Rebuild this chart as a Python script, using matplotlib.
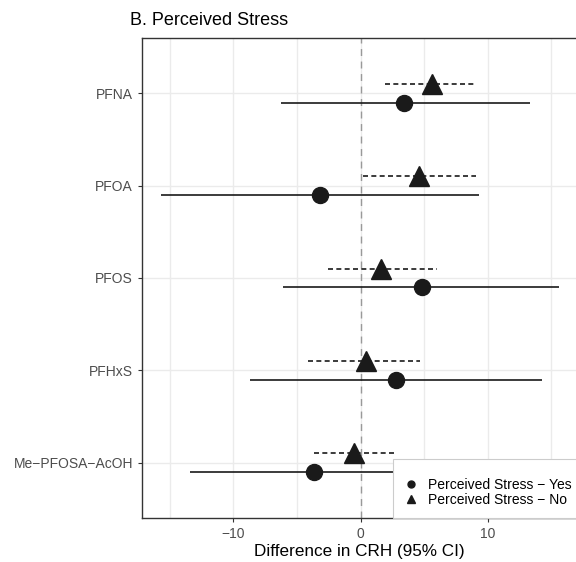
import numpy as np
import matplotlib
matplotlib.use("Agg")
import matplotlib.pyplot as plt
from matplotlib.ticker import MultipleLocator

plt.rcParams["font.family"] = ["Liberation Sans", "DejaVu Sans"]

# Data
chemicals = ["PFNA", "PFOA", "PFOS", "PFHxS", "Me\u2212PFOSA\u2212AcOH"]

yes_est = [3.4, -3.2, 4.8, 2.8, -3.7]
yes_low = [-6.3, -15.7, -6.1, -8.7, -13.4]
yes_high = [13.3, 9.3, 15.6, 14.3, 6.0]

no_est = [5.6, 4.6, 1.6, 0.4, -0.5]
no_low = [1.9, 0.2, -2.6, -4.1, -3.7]
no_high = [9.1, 9.1, 6.0, 4.7, 2.9]

LINE_COLOUR = "#1a1a1a"
GRID_COLOUR = "#ebebeb"
TEXT_COLOUR = "#4d4d4d"

fig = plt.figure(figsize=(5.76, 5.62), dpi=100)
ax = fig.add_axes([0.2465, 0.0783, 0.7535, 0.8541])

y = np.arange(len(chemicals))[::-1] + 1.0
offset = 0.1

ax.axvline(0, color="#999999", linestyle=(0, (5, 4)), linewidth=1.0, zorder=1)

# Perceived Stress - Yes (solid)
ax.hlines(y - offset, yes_low, yes_high, color=LINE_COLOUR, linewidth=1.2, zorder=2)
ax.plot(yes_est, y - offset, "o", color=LINE_COLOUR, markersize=11.5, zorder=3, linestyle="none")

# Perceived Stress - No (dashed)
ax.hlines(y + offset, no_low, no_high, color=LINE_COLOUR, linewidth=1.2, linestyles=(0, (3, 2)), zorder=2)
ax.plot(no_est, y + offset, "^", color=LINE_COLOUR, markersize=14, zorder=3, linestyle="none")

ax.set_xlim(-17.2, 16.95)
ax.set_ylim(0.4, 5.6)
ax.set_yticks(y)
ax.set_yticklabels(chemicals)
ax.xaxis.set_minor_locator(MultipleLocator(5))
ax.set_xticks([-10, 0, 10])
ax.set_xticklabels(["\u221210", "0", "10"])

ax.grid(True, which="both", axis="x", color=GRID_COLOUR, linewidth=1.0, zorder=0)
ax.grid(True, which="major", axis="y", color=GRID_COLOUR, linewidth=1.0, zorder=0)
ax.set_axisbelow(True)

ax.tick_params(axis="both", which="major", colors="#333333", labelcolor=TEXT_COLOUR, labelsize=10, length=3, width=0.8)
ax.tick_params(axis="x", which="minor", length=0)

for name, spine in ax.spines.items():
    spine.set_color("#333333")
    spine.set_linewidth(1.0)
ax.spines["right"].set_visible(False)

ax.set_xlabel("Difference in CRH (95% CI)", fontsize=12.3, color="black", labelpad=2)
ax.set_title("B. Perceived Stress", fontsize=13, loc="left", x=-0.027, pad=9)

yes_handle = plt.Line2D([], [], marker="o", color=LINE_COLOUR, linestyle="none", markersize=5)
no_handle = plt.Line2D([], [], marker="^", color=LINE_COLOUR, linestyle="none", markersize=6)
leg = ax.legend([yes_handle, no_handle], ["Perceived Stress \u2212 Yes", "Perceived Stress \u2212 No"],
                loc="lower left", bbox_to_anchor=(0.578, 0.0), fontsize=10, frameon=True,
                fancybox=False, borderpad=0.8, handletextpad=0.7, labelspacing=0.05,
                handlelength=1.0, borderaxespad=0, title=" ", title_fontsize=5)
leg.get_frame().set_edgecolor("#cccccc")
leg.get_frame().set_linewidth(0.8)
leg.get_frame().set_alpha(1.0)
leg.set_zorder(5)

fig.savefig("out.png", dpi=100)
